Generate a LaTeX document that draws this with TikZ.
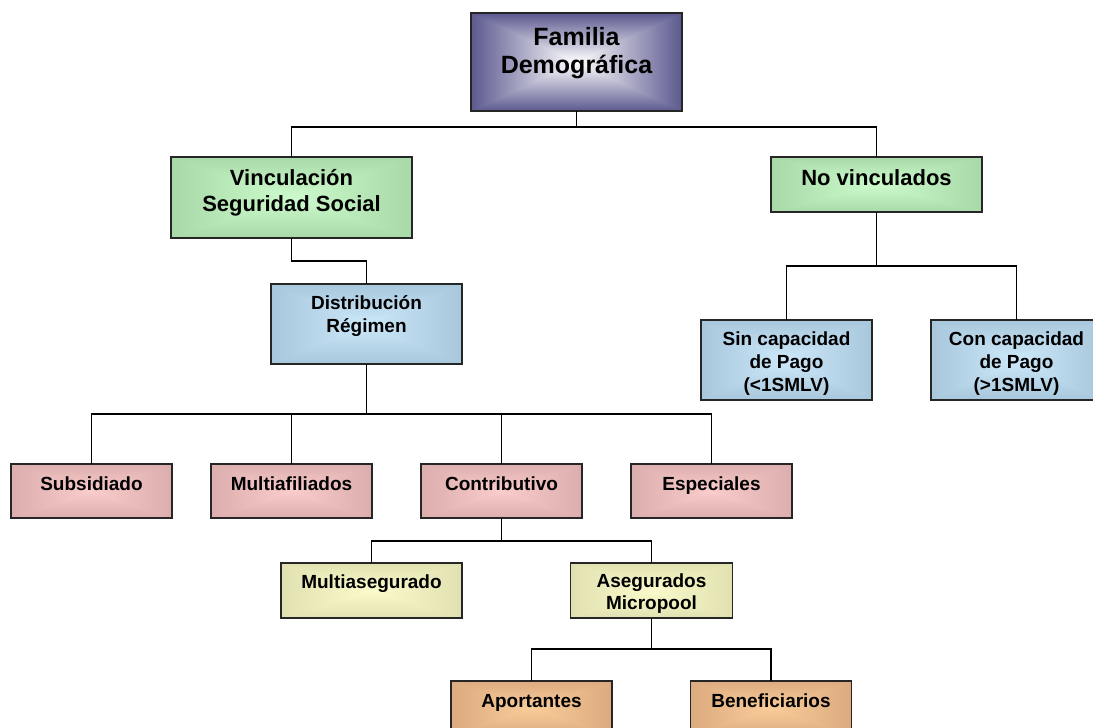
\documentclass[tikz,border=0pt]{standalone}
\usepackage{fontspec}
\setmainfont{Liberation Sans}
\usetikzlibrary{calc}

% rectangular "from centre" gradient: #2-#4 = edge minus centre, #5-#7 = centre rgb
\newcommand\rectshade[7]{\pgfdeclarefunctionalshading{#1}{\pgfpoint{-50bp}{-50bp}}{\pgfpoint{50bp}{50bp}}{}{abs exch abs 2 copy lt {exch} if pop 25 div dup 1 gt {pop 1} if dup #2 mul #5 add exch dup #3 mul #6 add exch #4 mul #7 add}}
\rectshade{rsfam}{-0.64}{-0.65}{-0.44}{1.0}{1.0}{1.0}
\rectshade{rsgreen}{-0.14}{-0.13}{-0.14}{0.80}{0.98}{0.80}
\rectshade{rsblue}{-0.14}{-0.13}{-0.12}{0.80}{0.91}{0.98}
\rectshade{rspink}{-0.12}{-0.12}{-0.12}{0.98}{0.80}{0.80}
\rectshade{rsyellow}{-0.10}{-0.10}{-0.11}{0.98}{0.98}{0.80}
\rectshade{rsorange}{-0.12}{-0.13}{-0.10}{0.98}{0.80}{0.60}

% box text: width, height, font size, leading, first baseline, text
\newcommand\bt[6]{\parbox[c][#2pt][t]{#1pt}{\centering\fontsize{#3pt}{#4pt}\selectfont\bfseries\rule{0pt}{#5pt}#6}}

\tikzset{
  orgbox/.style={draw=black!85, line width=1.8pt, inner sep=0pt, outer sep=0pt},
  conn/.style={draw=black, line width=1.8pt},
}

\begin{document}
\begin{tikzpicture}[x=1pt,y=-1pt]
\useasboundingbox (0,0) rectangle (1093,728);
\fill[white] (0,0) rectangle (1093,728);
\clip (0,0) rectangle (1093,728);

\node[orgbox, shading=rsfam] (fam) at (576.5,62) {\bt{211}{98}{25}{28}{32}{Familia\\Demográfica}};
\node[orgbox, shading=rsgreen] (vin) at (291.5,197.5) {\bt{241}{81}{22}{26}{28}{Vinculación\\Seguridad Social}};
\node[orgbox, shading=rsgreen] (nov) at (876.5,184.5) {\bt{211}{55}{22}{26}{28}{No vinculados}};
\node[orgbox, shading=rsblue] (dis) at (366.5,324) {\bt{191}{80}{19}{23}{25}{Distribución\\Régimen}};
\node[orgbox, shading=rsblue] (sin) at (786.5,360) {\bt{171}{80}{19}{23.3}{25}{Sin capacidad\\de Pago\\(<1SMLV)}};
\node[orgbox, shading=rsblue] (con) at (1016.5,360) {\bt{171}{80}{19}{23.3}{25}{Con capacidad\\de Pago\\(>1SMLV)}};

\node[orgbox, shading=rspink] (sub) at (91.5,491) {\bt{161}{54}{19}{23}{26}{Subsidiado}};
\node[orgbox, shading=rspink] (mul) at (291.5,491) {\bt{161}{54}{19}{23}{26}{Multiafiliados}};
\node[orgbox, shading=rspink] (cont) at (501.5,491) {\bt{161}{54}{19}{23}{26}{Contributivo}};
\node[orgbox, shading=rspink] (esp) at (711.5,491) {\bt{161}{54}{19}{23}{26}{Especiales}};

\node[orgbox, shading=rsyellow] (mas) at (371.5,590.5) {\bt{181}{55}{19}{23}{25}{Multiasegurado}};
\node[orgbox, shading=rsyellow] (ase) at (651.5,590.5) {\bt{162}{55}{19}{22}{24}{Asegurados\\Micropool}};

\node[orgbox, shading=rsorange] (apo) at (531.5,708) {\bt{161}{54}{19}{23}{26}{Aportantes}};
\node[orgbox, shading=rsorange] (ben) at (771,708) {\bt{161}{54}{19}{23}{26}{Beneficiarios}};

% connectors
\draw[conn] (fam.south) -- ++(0,16) -| (vin.north);
\draw[conn] (fam.south) -- ++(0,16) -| (nov.north);
\draw[conn] (vin.south) |- ($(vin.south)!.5!(dis.north)$) -| (dis.north);
\foreach \c in {sub,mul,cont,esp}{\draw[conn] (dis.south) -- ++(0,50) -| (\c.north);}
\foreach \c in {sin,con}{\draw[conn] (nov.south) -- ++(0,54) -| (\c.north);}
\foreach \c in {mas,ase}{\draw[conn] (cont.south) -- ++(0,23) -| (\c.north);}
\foreach \c in {apo,ben}{\draw[conn] (ase.south) -- ++(0,31) -| (\c.north);}
\end{tikzpicture}
\end{document}
